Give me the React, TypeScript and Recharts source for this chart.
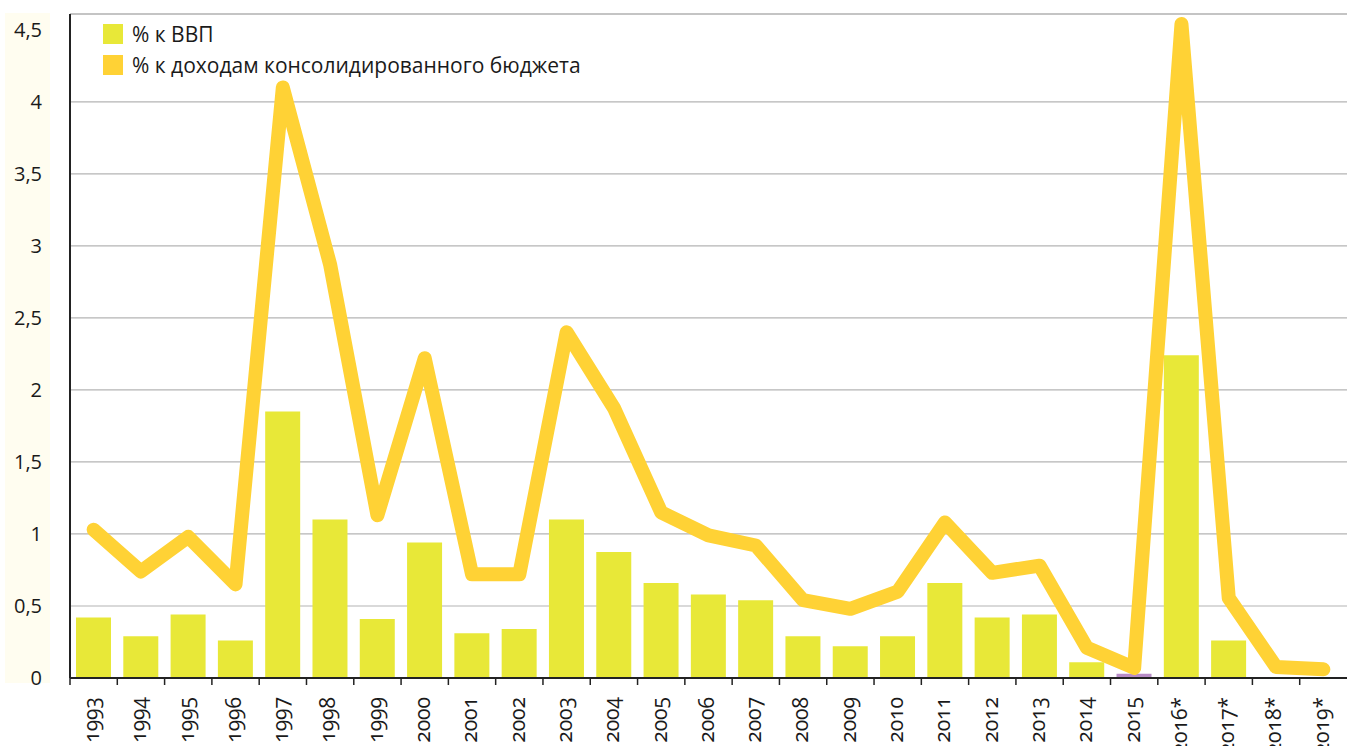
import { Bar, CartesianGrid, Cell, ComposedChart, Line, ReferenceLine, XAxis, YAxis } from "recharts";

const years = [
  "1993", "1994", "1995", "1996", "1997", "1998", "1999", "2000", "2001", "2002",
  "2003", "2004", "2005", "2006", "2007", "2008", "2009", "2010", "2011", "2012",
  "2013", "2014", "2015", "2016*", "2017*", "2018*", "2019*",
];
// % к ВВП
const gdpShare = [
  0.42, 0.29, 0.44, 0.26, 1.85, 1.1, 0.41, 0.94, 0.31, 0.34,
  1.1, 0.875, 0.66, 0.58, 0.54, 0.29, 0.22, 0.29, 0.66, 0.42,
  0.44, 0.11, 0.03, 2.24, 0.26, 0.006, 0.006,
];
// % к доходам консолидированного бюджета
const budgetShare = [
  1.03, 0.74, 0.98, 0.65, 4.1, 2.87, 1.13, 2.22, 0.72, 0.72,
  2.4, 1.875, 1.15, 0.99, 0.92, 0.54, 0.48, 0.6, 1.08, 0.73,
  0.78, 0.21, 0.07, 4.54, 0.555, 0.076, 0.06,
];
const yTicks = [0, 0.5, 1, 1.5, 2, 2.5, 3, 3.5, 4, 4.5];
const gridValues = [0.5, 1, 1.5, 2, 2.5, 3, 3.5, 4];
const purpleYears = ["2015", "2018*", "2019*"];
const gdpLabel = "% к ВВП";
const budgetLabel = "% к доходам консолидированного бюджета";

const data = years.map((year, i) => ({ year, gdp: gdpShare[i], budget: budgetShare[i] }));

const FONT = "'Open Sans', 'Noto Sans', sans-serif";
const BAR = "#e8e838";
const LINE = "#ffd235";
const PURPLE = "#b88cc6";

function YearTick(props: any) {
  const { x, y, payload } = props;
  const half = payload.offset || 23.6;
  return (
    <g>
      <line x1={x - half} x2={x - half} y1={y - 8} y2={y - 1} stroke="#222" strokeWidth={1.5} />
      <text
        x={x - 2}
        y={y + 11}
        transform={`rotate(-90, ${x - 2}, ${y + 11})`}
        textAnchor="end"
        dy="0.35em"
        fontSize={21}
        fontFamily={FONT}
        fill="#1a1a1a"
        style={{ fontVariantNumeric: "oldstyle-nums" }}
      >
        {payload.value}
      </text>
    </g>
  );
}

export default function App() {
  const legendItems = [
    { label: gdpLabel, color: BAR },
    { label: budgetLabel, color: LINE },
  ];
  return (
    <div style={{ position: "relative", width: 1347, height: 746, background: "#fff" }}>
      <style>{`body{margin:0}`}</style>
      <div style={{ position: "absolute", left: 5, top: 13, width: 45, height: 670, background: "#fffdf0" }} />
      <div style={{ position: "absolute", left: 0, top: 0 }}>
        <ComposedChart width={1347} height={746} data={data} margin={{ top: 14, right: 0, left: 0, bottom: 0 }}>
          <CartesianGrid vertical={false} horizontalValues={gridValues} stroke="#b4b4b4" strokeWidth={1.2} />
          <ReferenceLine y={4.61} stroke="#c4c4c4" strokeWidth={2} ifOverflow="visible" />
          <XAxis
            dataKey="year"
            interval={0}
            height={68}
            tickLine={false}
            axisLine={{ stroke: "#222", strokeWidth: 2 }}
            tick={<YearTick />}
          />
          <YAxis
            domain={[0, 4.61]}
            ticks={yTicks}
            allowDataOverflow
            width={70}
            tickLine={false}
            tickSize={0}
            tickMargin={28}
            axisLine={{ stroke: "#222", strokeWidth: 2 }}
            tickFormatter={(v: number) => String(v).replace(".", ",")}
            tick={{ fontSize: 20, fontFamily: FONT, fill: "#1a1a1a" }}
          />
          <Bar dataKey="gdp" name={gdpLabel} fill={BAR} barSize={35} isAnimationActive={false}>
            {data.map((d) => (
              <Cell key={d.year} fill={purpleYears.includes(d.year) ? PURPLE : BAR} />
            ))}
          </Bar>
          <Line
            dataKey="budget"
            name={budgetLabel}
            stroke={LINE}
            strokeWidth={14}
            strokeLinejoin="round"
            strokeLinecap="round"
            dot={false}
            activeDot={false}
            isAnimationActive={false}
          />
        </ComposedChart>
      </div>
      <div style={{ position: "absolute", left: 103, top: 18, fontFamily: FONT, fontSize: 21, color: "#1a1a1a" }}>
        {legendItems.map((it) => (
          <div key={it.label} style={{ display: "flex", alignItems: "center", height: 31 }}>
            <span style={{ width: 20, height: 20, background: it.color, marginRight: 9, display: "inline-block" }} />
            <span>{it.label}</span>
          </div>
        ))}
      </div>
    </div>
  );
}
